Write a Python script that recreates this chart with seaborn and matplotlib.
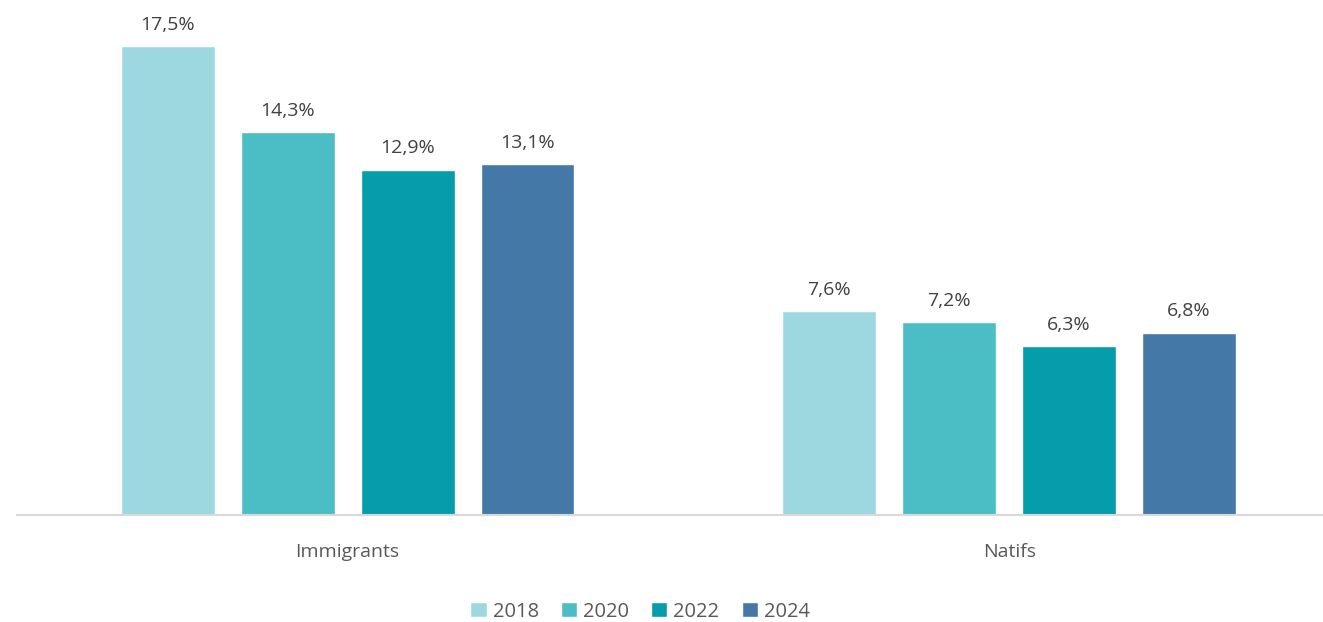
import pandas as pd
import matplotlib.pyplot as plt
import seaborn as sns

# Data
groups = ["Immigrants", "Natifs"]
years = ["2018", "2020", "2022", "2024"]
immigrants = [17.5, 14.3, 12.9, 13.1]
natifs = [7.6, 7.2, 6.3, 6.8]
colors = ["#9DD8E1", "#4BBEC5", "#059DAB", "#4478A6"]

df = pd.DataFrame({
    "Groupe": [groups[0]] * 4 + [groups[1]] * 4,
    "Année": years * 2,
    "Taux": immigrants + natifs,
})

sns.set_style("white")
plt.rcParams["font.family"] = ["Open Sans", "DejaVu Sans"]

fig = plt.figure(figsize=(13.23, 6.22), dpi=100)
ax = fig.add_axes([0.0128, 0.172, 1.0, 0.818])

sns.barplot(data=df, x="Groupe", y="Taux", hue="Année", palette=colors,
            width=0.725, gap=0.217, saturation=1, ax=ax, legend=True)

for cont in ax.containers:
    ax.bar_label(cont, labels=[f"{v:.1f}%".replace(".", ",") for v in cont.datavalues],
                 padding=9, fontsize=14, color="#404040")

ax.set_xlim(-0.5, 1.5)
ax.set_ylim(0, 19)
ax.set_xlabel("")
ax.set_ylabel("")
ax.set_yticks([])
ax.tick_params(axis="x", length=0, pad=20, labelsize=14, labelcolor="#595959")
for s in ["top", "right", "left"]:
    ax.spines[s].set_visible(False)
ax.spines["bottom"].set_color("#D9D9D9")
ax.spines["bottom"].set_linewidth(1.5)

ax.legend(loc="center", bbox_to_anchor=(0.471, -0.19), ncol=4, frameon=False,
          fontsize=14.5, labelcolor="#595959", handlelength=0.8, handleheight=0.8,
          handletextpad=0.3, columnspacing=1.1)

fig.savefig("out.png", dpi=100)
